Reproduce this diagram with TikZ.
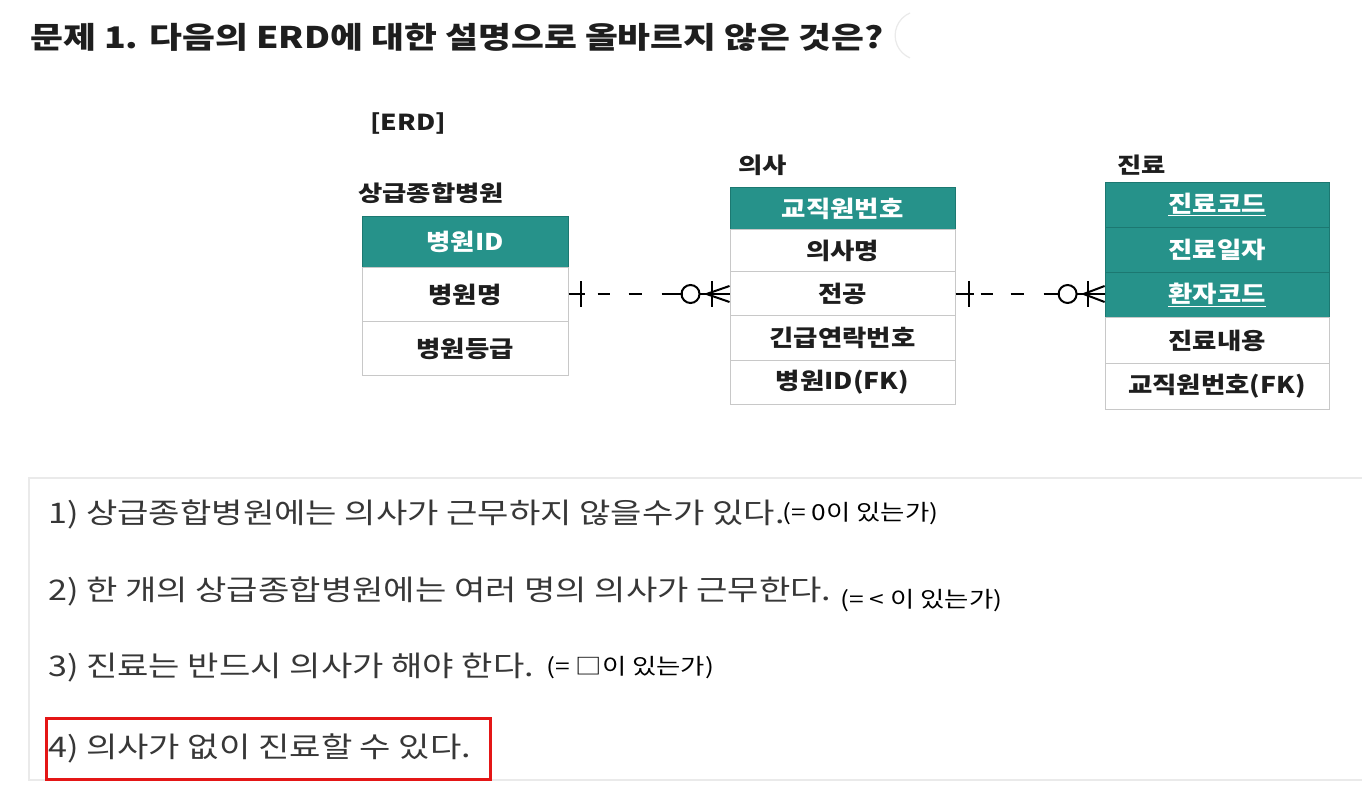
\documentclass[tikz,border=0pt]{standalone}
\usepackage{fontspec}
\setmainfont{Noto Sans CJK KR}
\newfontfamily\widefont{Noto Sans CJK KR}[FakeStretch=1.2]
\newfontfamily\cellfont{Noto Sans CJK KR}[FakeStretch=1.15]
\usetikzlibrary{calc}
\definecolor{tealh}{RGB}{38,146,138}
\definecolor{tealdk}{RGB}{28,120,113}
\definecolor{bord}{RGB}{200,200,200}
\definecolor{txt}{RGB}{30,30,30}
\definecolor{qtxt}{RGB}{55,55,55}
\definecolor{panel}{RGB}{234,234,234}
\definecolor{redbox}{RGB}{228,22,22}
\begin{document}
\begin{tikzpicture}[x=1pt,y=-1pt,
  cellf/.style={font=\cellfont\bfseries\fontsize{23}{23}\selectfont, inner sep=0pt},
  cell/.style={cellf, draw=bord, line width=1pt, fill=white, text=txt},
  hdr/.style={cellf, draw=tealdk, line width=0.8pt, fill=tealh, text=white},
  ename/.style={font=\widefont\bfseries\fontsize{22}{22}\selectfont, text=txt, anchor=west, inner sep=0pt},
  qline/.style={font=\widefont\fontsize{28.4}{28.4}\selectfont, text=qtxt, anchor=west, inner sep=0pt},
  note/.style={font=\widefont\fontsize{22}{22}\selectfont, text=black, anchor=west, inner sep=0pt},
  rel/.style={line width=2pt, black},
]
\useasboundingbox (0,0) rectangle (1362,799);
\fill[white] (0,0) rectangle (1362,799);

% title
\node[anchor=west, inner sep=0pt, font=\widefont\bfseries\fontsize{29.8}{29.8}\selectfont, text=txt] (title) at (30,37)
  {문제 1. 다음의 ERD에 대한 설명으로 올바르지 않은 것은?};
\draw[panel, line width=1.2pt] (910,13) arc[start angle=247, end angle=113, radius=24.4];

% ERD label and entity names
\node[ename] (erd) at (370,124) {[ERD]};
\node[ename] (n1) at (358,193) {상급종합병원};
\node[ename] (n2) at (738,165) {의사};
\node[ename] (n3) at (1117,165) {진료};

% entity 1
\node[hdr, minimum width=206pt, minimum height=52pt] (a1) at (465,242) {병원ID};
\node[cell, minimum width=206pt, minimum height=54pt] (a2) at (465,295) {병원명};
\node[cell, minimum width=206pt, minimum height=53pt] (a3) at (465,348.5) {병원등급};

% entity 2
\node[hdr, minimum width=225pt, minimum height=43pt] (b1) at (842.5,208.5) {교직원번호};
\node[cell, minimum width=225pt, minimum height=42pt] (b2) at (842.5,251) {의사명};
\node[cell, minimum width=225pt, minimum height=44pt] (b3) at (842.5,294) {전공};
\node[cell, minimum width=225pt, minimum height=44pt] (b4) at (842.5,338) {긴급연락번호};
\node[cell, minimum width=225pt, minimum height=44pt] (b5) at (842.5,382) {병원ID(FK)};

% entity 3
\node[hdr, minimum width=224pt, minimum height=45pt] (c1) at (1217,204.5) {\underline{진료코드}};
\node[hdr, minimum width=224pt, minimum height=45pt] (c2) at (1217,249.5) {진료일자};
\node[hdr, minimum width=224pt, minimum height=46pt] (c3) at (1217,295) {\underline{환자코드}};
\node[cell, minimum width=224pt, minimum height=45pt] (c4) at (1217,340.5) {진료내용};
\node[cell, minimum width=224pt, minimum height=46pt] (c5) at (1217,386) {교직원번호(FK)};

% relationship 1: 상급종합병원 -> 의사
\coordinate (s1) at ($(a2.east)+(0,-0.5)$);
\coordinate (e1) at (b3.west);
\draw[rel] (s1) -- ++(16,0);
\draw[rel] ($(s1)+(12,-13)$) -- ++(0,26);
\draw[rel] ($(s1)+(29,0)$) -- ++(12,0);
\draw[rel] ($(s1)+(60,0)$) -- ++(13,0);
\draw[rel] ($(s1)+(93,0)$) -- ++(21,0);
\draw[rel] ($(e1)+(-39,0)$) circle[radius=9];
\draw[rel] ($(e1)+(-30,0)$) -- (e1);
\draw[rel] ($(e1)+(-18,-13)$) -- ++(0,26);
\draw[rel] ($(e1)+(-23,0)$) -- ($(e1)+(0,-8)$);
\draw[rel] ($(e1)+(-23,0)$) -- ($(e1)+(0,8)$);

% relationship 2: 의사 -> 진료
\coordinate (s2) at (b3.east);
\coordinate (e2) at ($(c3.west)+(0,-1)$);
\draw[rel] (s2) -- ++(18,0);
\draw[rel] ($(s2)+(13,-13)$) -- ++(0,26);
\draw[rel] ($(s2)+(25,0)$) -- ++(12,0);
\draw[rel] ($(s2)+(55,0)$) -- ++(13,0);
\draw[rel] ($(s2)+(88,0)$) -- ++(16,0);
\draw[rel] ($(e2)+(-37,0)$) circle[radius=9];
\draw[rel] ($(e2)+(-28,0)$) -- (e2);
\draw[rel] ($(e2)+(-17,-13)$) -- ++(0,26);
\draw[rel] ($(e2)+(-21,0)$) -- ($(e2)+(0,-8)$);
\draw[rel] ($(e2)+(-21,0)$) -- ($(e2)+(0,8)$);

% question panel
\draw[panel, line width=2pt] (1370,478) -- (29,478) -- (29,780) -- (1370,780);

\node[qline] (q1) at (48,514) {1) 상급종합병원에는 의사가 근무하지 않을수가 있다.};
\node[note] (p1) at (782,514) {(= 0이 있는가)};
\node[qline] (q2) at (48,591) {2) 한 개의 상급종합병원에는 여러 명의 의사가 근무한다.};
\node[note] (p2) at (840,601) {(= < 이 있는가)};
\node[qline] (q3) at (48,668) {3) 진료는 반드시 의사가 해야 한다.};
\node[note] (p3) at (546,668) {(= □이 있는가)};
\node[qline] (q4) at (48,748) {4) 의사가 없이 진료할 수 있다.};
\draw[redbox, line width=3pt] (46,718) rectangle (490,779);
\end{tikzpicture}
\end{document}
